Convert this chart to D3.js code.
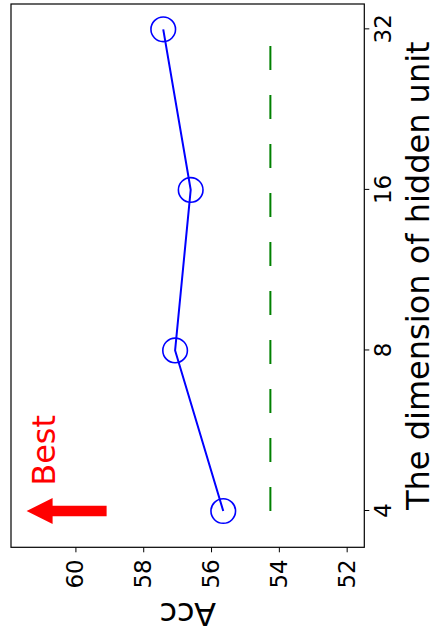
<!DOCTYPE html>
<html>
<head>
<meta charset="utf-8">
<script src="https://cdn.jsdelivr.net/npm/d3@7"></script>
<style>
	body { margin: 0; background: #fff; }
	svg { display: block; font-family: "DejaVu Sans", sans-serif; }
</style>
</head>
<body>
<div id="chart"></div>
<script>
// data
const units = [4, 8, 16, 32];
const acc = [55.64, 57.06, 56.60, 57.41];
const baselineAcc = 54.25;
const accTicks = [52, 54, 56, 58, 60];
const arrowFrom = [4, 59.08],
		arrowTo = [4, 61.44],
		bestLabel = [4.46, 60.6];

const W = 434, H = 643;

// the chart is drawn as a normal plot and then turned a quarter to the left
const frame = { left: 95.7, right: 639, top: 11, bottom: 364.3 };

const x = d3.scaleLog()
	.base(2)
	.domain([3.42, 35.7])
	.range([frame.left, frame.right]);

const y = d3.scaleLinear()
	.domain([51.48, 61.9])
	.range([frame.bottom, frame.top]);

const svg = d3.select("#chart")
	.append("svg")
		.attr("width", W)
		.attr("height", H);

const g = svg.append("g")
	.attr("transform", `translate(0,${H}) rotate(-90)`);

// axes
const xAxis = g.append("g")
	.attr("transform", `translate(0,${frame.bottom})`)
	.call(d3.axisBottom(x)
		.tickValues(units)
		.tickFormat(d3.format("d"))
		.tickSize(5)
		.tickPadding(5));

const yAxis = g.append("g")
	.attr("transform", `translate(${frame.left},0)`)
	.call(d3.axisLeft(y)
		.tickValues(accTicks)
		.tickSize(5)
		.tickPadding(7));

[xAxis, yAxis].forEach((a) => {
	a.select(".domain").remove();
	a.selectAll("text")
		.style("font-family", "DejaVu Sans")
		.style("font-size", "23px")
		.attr("fill", "#000");
	a.selectAll("line").attr("stroke", "#000").attr("stroke-width", 1);
});

// baseline (dashed)
g.append("line")
	.attr("x1", x(units[0]))
	.attr("x2", x(units[units.length - 1]))
	.attr("y1", y(baselineAcc))
	.attr("y2", y(baselineAcc))
	.attr("stroke", "#008000")
	.attr("stroke-width", 2)
	.attr("stroke-dasharray", "24,25");

// main series
const line = d3.line()
	.x((d, i) => x(units[i]))
	.y((d) => y(d));

g.append("path")
	.datum(acc)
	.attr("d", line)
	.attr("fill", "none")
	.attr("stroke", "#0000ff")
	.attr("stroke-width", 2);

g.selectAll("circle.pt")
	.data(acc)
	.enter()
	.append("circle")
		.attr("class", "pt")
		.attr("cx", (d, i) => x(units[i]))
		.attr("cy", (d) => y(d))
		.attr("r", 12.3)
		.attr("fill", "none")
		.attr("stroke", "#0000ff")
		.attr("stroke-width", 1.6);

// "Best" arrow
const ax = x(arrowFrom[0]),
		tailY = y(arrowFrom[1]),
		tipY = y(arrowTo[1]),
		headLen = 26,
		headW = 13,
		shaftW = 5.35;

g.append("path")
	.attr("d", d3.line()([
		[ax - shaftW, tailY],
		[ax - shaftW, tipY + headLen],
		[ax - headW, tipY + headLen],
		[ax, tipY],
		[ax + headW, tipY + headLen],
		[ax + shaftW, tipY + headLen],
		[ax + shaftW, tailY]
	]) + "Z")
	.attr("fill", "#ff0000");

g.append("text")
	.attr("x", x(bestLabel[0]))
	.attr("y", y(bestLabel[1]))
	.attr("fill", "#ff0000")
	.style("font-size", "32px")
	.text("Best");

// frame
g.append("rect")
	.attr("x", frame.left)
	.attr("y", frame.top)
	.attr("width", frame.right - frame.left)
	.attr("height", frame.bottom - frame.top)
	.attr("fill", "none")
	.attr("stroke", "#000")
	.attr("stroke-width", 1.2);

// axis titles
g.append("text")
	.attr("x", (frame.left + frame.right) / 2)
	.attr("y", 428.5)
	.attr("text-anchor", "middle")
	.style("font-size", "32px")
	.text("The dimension of hidden unit");

g.append("text")
	.attr("transform", `translate(39.7,${(frame.top + frame.bottom) / 2}) rotate(-90)`)
	.attr("text-anchor", "middle")
	.style("font-size", "32px")
	.text("Acc");
</script>
</body>
</html>
